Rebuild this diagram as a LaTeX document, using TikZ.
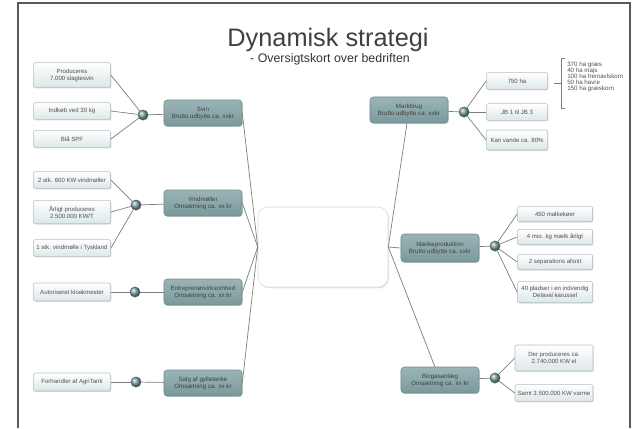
\documentclass[tikz,border=0pt]{standalone}
\usepackage{fontspec}
\setmainfont{Liberation Sans}
\usetikzlibrary{shadows}
\definecolor{hovedtop}{HTML}{9AB4B6}
\definecolor{hovedbund}{HTML}{7A999B}
\definecolor{hovedkant}{HTML}{6F8C8E}
\definecolor{bladbund}{HTML}{DCE7E9}
\definecolor{bladkant}{HTML}{B4C0C2}
\definecolor{navfarve}{HTML}{7FA5A8}
\definecolor{linje}{HTML}{7E7E7E}
\definecolor{tekst}{HTML}{505050}
\tikzset{
  hoved/.style = {rectangle, rounded corners=0.8mm, draw=hovedkant, top color=hovedtop, bottom color=hovedbund, minimum width=19.5mm, minimum height=6.5mm, align=center, inner sep=1pt, text=tekst!80!black, font=\fontsize{4.4}{5}\selectfont, drop shadow={opacity=0.35, shadow xshift=0.5pt, shadow yshift=-0.7pt}},
  blad/.style  = {rectangle, rounded corners=0.5mm, draw=bladkant, top color=white, bottom color=bladbund, minimum width=19.3mm, minimum height=4.2mm, align=center, inner sep=1pt, text=tekst, font=\fontsize{4.3}{4.9}\selectfont, drop shadow={opacity=0.3, shadow xshift=0.5pt, shadow yshift=-0.7pt}},
  midt/.style  = {rectangle, rounded corners=2.5mm, draw=black!15, fill=white, minimum width=32.5mm, minimum height=20mm, drop shadow={opacity=0.2, shadow xshift=0.8pt, shadow yshift=-1pt}},
  nav/.style   = {circle, ball color=navfarve, draw=navfarve!60!black, line width=0.2pt, minimum size=2.6mm, inner sep=0},
  link/.style  = {draw=linje, line width=0.5pt},
  et/.style    = {font=\fontsize{4.4}{4.2}\selectfont, text=tekst, align=left}
}
\begin{document}
\begin{tikzpicture}[x=0.025cm, y=-0.025cm]
  \useasboundingbox (0,0) rectangle (637,428);
  \draw[line width=1pt, black!65] (18,428) -- (18,3) -- (630,3) -- (630,428);
  \node[font=\fontsize{18}{20}\selectfont, text=black!75] (titel) at (328,40) {Dynamisk strategi};
  \node[font=\fontsize{8.8}{10}\selectfont, text=black!80] (under) at (330,59) {- Oversigtskort over bedriften};
  % midten
  \node[midt] (centrum) at (323,247) {};
  % venstre side
  \node[hoved] (svin) at (203,113) {Svin\\Brutto udbytte ca. xxkr}; \draw[link] (centrum.west)--(svin.east);
  \node[hoved] (vind) at (203,203) {Vindmøller\\Omsætning ca. xx kr}; \draw[link] (centrum.west)--(vind.east);
  \node[hoved] (entr) at (203,292) {Entreprenørvirksomhed\\Omsætning ca. xx kr}; \draw[link] (centrum.west)--(entr.east);
  \node[hoved] (salg) at (203,383) {Salg af gylletanke\\Omsætning ca. xx kr}; \draw[link] (centrum.west)--(salg.east);
  \node[nav] (nsvin) at (143,115) {}; \draw[link] (svin)--(nsvin);
  \node[nav] (nvind) at (136,205) {}; \draw[link] (vind)--(nvind);
  \node[nav] (nentr) at (135,292) {}; \draw[link] (entr)--(nentr);
  \node[nav] (nsalg) at (136,382) {}; \draw[link] (salg)--(nsalg);
  \node[blad, minimum height=6.2mm] (prod) at (72,75) {Produceres\\7.000 slagtesvin}; \draw[link] (prod.east)--(nsvin);
  \node[blad] (indk) at (72,111) {Indkøb ved 30 kg}; \draw[link] (indk.east)--(nsvin);
  \node[blad] (blaa) at (72,139) {Blå SPF}; \draw[link] (blaa.east)--(nsvin);
  \node[blad] (v1) at (72,180) {2 stk. 600 KW vindmøller}; \draw[link] (v1.east)--(nvind);
  \node[blad, minimum height=5.8mm] (v2) at (72,212) {Årligt produceres\\2.500.000 KW/T}; \draw[link] (v2.east)--(nvind);
  \node[blad] (v3) at (72,248) {1 stk. vindmølle i Tyskland}; \draw[link] (v3.east)--(nvind);
  \node[blad, minimum height=4.5mm] (kloak) at (72,292) {Autoriseret kloakmester}; \draw[link] (kloak.east)--(nentr);
  \node[blad, minimum height=4.5mm] (agri) at (72,382) {Forhandler af AgriTank}; \draw[link] (agri.east)--(nsalg);
  % hoejre side
  \node[hoved] (mark) at (409,110) {Markbrug\\Brutto udbytte ca. xxkr}; \draw[link] (centrum.east)--(mark);
  \node[hoved, minimum height=7mm] (maelk) at (440,248) {Mælkeproduktion\\Brutto udbytte ca. xxkr}; \draw[link] (centrum.east)--(maelk.west);
  \node[hoved] (biogas) at (440,380) {Biogasanlæg\\Omsætning ca. xx kr}; \draw[link] (centrum.east)--(biogas);
  \node[nav] (nmark) at (464,112) {}; \draw[link] (mark)--(nmark);
  \node[nav] (nmaelk) at (495,246) {}; \draw[link] (maelk)--(nmaelk);
  \node[nav] (nbio) at (495,378) {}; \draw[link] (biogas)--(nbio);
  \node[blad, minimum width=15.3mm] (ha) at (517,81) {750 ha}; \draw[link] (ha.west)--(nmark);
  \node[blad, minimum width=15.3mm] (jb) at (517,112) {JB 1 til JB 3}; \draw[link] (jb.west)--(nmark);
  \node[blad, minimum width=15.3mm, minimum height=5mm] (vand) at (517,140) {Kan vande ca. 80\%}; \draw[link] (vand.west)--(nmark);
  \node[blad, minimum width=18.8mm, minimum height=3.8mm] (m1) at (555,214) {450 malkekøer}; \draw[link] (m1.west)--(nmaelk);
  \node[blad, minimum width=18.8mm, minimum height=3.8mm] (m2) at (555,237) {4 mio. kg mælk årligt}; \draw[link] (m2.west)--(nmaelk);
  \node[blad, minimum width=18.8mm, minimum height=3.8mm] (m3) at (555,262) {2 separations afsnit}; \draw[link] (m3.west)--(nmaelk);
  \node[blad, minimum width=18.8mm, minimum height=5.3mm] (m4) at (555,292) {40 pladser i en indvendig\\Delaval karussel}; \draw[link] (m4.west)--(nmaelk);
  \node[blad, minimum width=19.5mm, minimum height=6.5mm] (b1) at (554,358) {Der produceres ca.\\2.740.000 KW el}; \draw[link] (b1.west)--(nbio);
  \node[blad, minimum width=19.5mm] (b2) at (554,393) {Samt 3.500.000 KW varme}; \draw[link] (b2.west)--(nbio);
  % afgroeder
  \node[et, anchor=west, inner sep=0] (afgr) at (567,77) {370 ha græs\\40 ha majs\\100 ha fremavlskorn\\50 ha havre\\150 ha græskorn};
  \coordinate (spids) at (554,83);
  \draw[link] (spids) -- (561,83) (565,58) -- (561,58) -- (561,108) -- (565,108);
\end{tikzpicture}
\end{document}
